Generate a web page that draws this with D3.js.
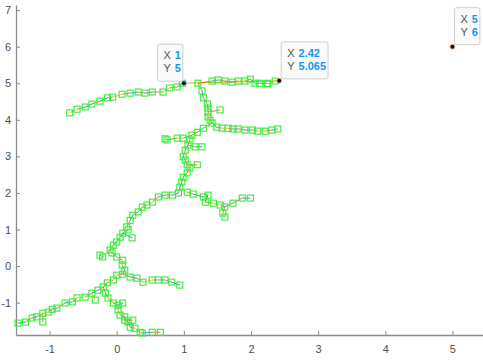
<!DOCTYPE html>
<html>
<head>
<meta charset="utf-8">
<script src="https://cdn.jsdelivr.net/npm/d3@7"></script>
<style>
  html, body { margin: 0; padding: 0; background: #fff; }
  svg { display: block; font-family: "Liberation Sans", Arial, sans-serif; }
</style>
</head>
<body>
<div id="chart"></div>
<script>
// tree branches, [x, y] in data units, each starts at its parent node
const branchTopLeft = [[0.98,5.00],[0.90,4.90],[0.79,4.87],[0.69,4.76],[0.53,4.76],[0.42,4.73],[0.32,4.76],[0.20,4.73],[0.08,4.70],[-0.06,4.62],[-0.14,4.60],[-0.25,4.51],[-0.37,4.43],[-0.47,4.35],[-0.59,4.29],[-0.70,4.19]];
const branchTopRight = [[1.21,5.00],[1.42,5.06],[1.51,5.09],[1.61,5.06],[1.72,5.03],[1.81,5.06],[1.91,5.06],[1.99,5.11],[2.06,5.00],[2.13,5.00],[2.24,5.00],[2.25,4.98],[2.36,5.06]];
const trunkUpper = [[1.21,5.00],[1.27,4.79],[1.29,4.60],[1.35,4.43],[1.36,4.32],[1.36,4.21],[1.36,4.08],[1.39,3.99],[1.42,3.91]];
const sideUpper = [[1.36,4.21],[1.54,4.27]];
const branchMidRight = [[1.42,3.91],[1.49,3.80],[1.57,3.77],[1.66,3.77],[1.73,3.75],[1.81,3.75],[1.91,3.72],[2.02,3.72],[2.10,3.69],[2.21,3.69],[2.31,3.72],[2.40,3.75]];
const trunkMid = [[1.42,3.91],[1.29,3.77],[1.20,3.66],[1.12,3.58],[1.09,3.45],[1.06,3.31],[1.02,3.17],[0.99,2.99],[1.02,2.90],[1.05,2.77],[1.09,2.68],[1.05,2.55],[0.99,2.43],[0.97,2.30],[0.94,2.16]];
const branchMidLeft = [[1.12,3.58],[0.99,3.50],[0.90,3.50],[0.75,3.45],[0.72,3.48]];
const sideMidA = [[1.06,3.31],[1.17,3.26],[1.27,3.26]];
const sideMidB = [[1.05,2.77],[1.20,2.77]];
const branchLowRight = [[0.94,2.16],[1.05,2.02],[1.14,1.97],[1.29,1.89],[1.36,1.94],[1.32,1.75],[1.44,1.72],[1.54,1.67],[1.61,1.62],[1.73,1.72],[1.87,1.86],[1.99,1.86]];
const sideLowRight = [[1.61,1.62],[1.58,1.45],[1.61,1.34]];
const trunkLow = [[0.94,2.16],[0.92,2.00],[0.83,1.94],[0.72,1.94],[0.62,1.89],[0.53,1.75],[0.45,1.67],[0.38,1.61],[0.32,1.48],[0.24,1.39],[0.20,1.25],[0.15,1.07],[0.17,0.99],[0.09,0.90],[0.05,0.79],[0.00,0.66],[-0.05,0.57],[-0.10,0.44],[-0.21,0.25],[-0.25,0.30]];
const sideLow = [[0.09,0.90],[0.23,0.77]];
const stemLow = [[-0.10,0.44],[-0.07,0.36],[0.00,0.25],[0.09,0.16],[0.08,0.03],[0.12,-0.11],[0.09,-0.22]];
const branchBottomRight = [[0.09,-0.22],[0.20,-0.30],[0.30,-0.33],[0.39,-0.44],[0.53,-0.38],[0.62,-0.38],[0.72,-0.38],[0.82,-0.44],[0.94,-0.52]];
const branchBottomLeft = [[0.09,-0.22],[0.00,-0.25],[-0.05,-0.38],[-0.14,-0.46],[-0.20,-0.57],[-0.28,-0.66],[-0.37,-0.74],[-0.47,-0.85],[-0.59,-0.87],[-0.66,-0.98],[-0.77,-1.01],[-0.89,-1.15],[-0.96,-1.18],[-1.02,-1.26],[-1.10,-1.29],[-1.19,-1.39],[-1.26,-1.42],[-1.36,-1.53],[-1.47,-1.56]];
const sideBottomLeftA = [[-1.10,-1.29],[-1.10,-1.53]];
const sideBottomLeftB = [[-0.37,-0.74],[-0.32,-0.93]];
const branchBottomDown = [[-0.20,-0.57],[-0.17,-0.74],[-0.13,-0.87],[-0.05,-1.01],[0.02,-1.07],[0.02,-1.20],[0.05,-1.34],[0.12,-1.39],[0.12,-1.48],[0.17,-1.53],[0.20,-1.67],[0.27,-1.70],[0.35,-1.81],[0.38,-1.83],[0.53,-1.81],[0.65,-1.81]];
const sideBottomDownA = [[0.02,-1.07],[0.09,-1.01]];
const sideBottomDownB = [[0.12,-1.48],[0.24,-1.48]];

const branches = [branchTopLeft, branchTopRight, trunkUpper, sideUpper, branchMidRight, trunkMid,
  branchMidLeft, sideMidA, sideMidB, branchLowRight, sideLowRight, trunkLow, sideLow, stemLow,
  branchBottomRight, branchBottomLeft, sideBottomLeftA, sideBottomLeftB, branchBottomDown,
  sideBottomDownA, sideBottomDownB];

// marked points with data tips
const tipPoints = [[1, 5], [2.42, 5.065], [5, 6]];
const tipLabels = [['1', '5'], ['2.42', '5.065'], ['5', '6']];
const tipSide = ['left', 'right', 'right'];

const xTicks = [-1, 0, 1, 2, 3, 4, 5];
const yTicks = [-1, 0, 1, 2, 3, 4, 5, 6, 7];

const width = 483, height = 360;
const lineColors = ['#0072BD', '#D95319', '#EDB120', '#D95319', '#0072BD', '#D95319'];

const x = d3.scaleLinear().domain([-1.5, 5.5]).range([16, 486]);
const y = d3.scaleLinear().domain([-1.885, 7.14]).range([335, 5]);

const svg = d3.select('#chart').append('svg')
  .attr('width', width)
  .attr('height', height);

// axes (plain hyphen minus, integer labels)
const fmt = (d) => String(d);
const axisColor = '#8c8c8c';
const xAxis = svg.append('g')
  .attr('transform', `translate(0,${y.range()[0]})`)
  .call(d3.axisBottom(x).tickValues(xTicks).tickFormat(fmt).tickSizeInner(-4).tickSizeOuter(0).tickPadding(8));
const yAxis = svg.append('g')
  .attr('transform', `translate(${x.range()[0]},0)`)
  .call(d3.axisLeft(y).tickValues(yTicks).tickFormat(fmt).tickSizeInner(-4).tickSizeOuter(0).tickPadding(5));
[xAxis, yAxis].forEach((g) => {
  g.select('.domain').attr('stroke', axisColor).attr('stroke-width', 1.3);
  g.selectAll('.tick line').attr('stroke', axisColor).attr('stroke-width', 1);
  g.selectAll('.tick text').attr('fill', '#4d4d4d').attr('font-size', 11)
    .attr('font-family', '"Liberation Sans", Arial, sans-serif');
});
xAxis.selectAll('.tick text').attr('dy', '0.9em');

// the yellow link between the first two tips
const line = d3.line().x((d) => x(d[0])).y((d) => y(d[1]));
svg.append('path')
  .datum([tipPoints[0], tipPoints[1]])
  .attr('d', line)
  .attr('fill', 'none')
  .attr('stroke', '#EDB120')
  .attr('stroke-width', 1.2);

// edges, each segment in its own colour
let k = 0;
const edges = svg.append('g');
branches.forEach((b) => {
  for (let i = 0; i < b.length - 1; i++) {
    edges.append('path')
      .datum([b[i], b[i + 1]])
      .attr('d', line)
      .attr('fill', 'none')
      .attr('stroke', lineColors[k % lineColors.length])
      .attr('stroke-width', 1)
      .attr('opacity', 0.8);
    k++;
  }
});

// square markers on every node
const nodes = branches.flatMap((b, bi) => bi === 0 || bi === 1 ? b : b.slice(1));
const s = 6;
svg.append('g').selectAll('rect')
  .data(nodes)
  .join('rect')
  .attr('x', (d) => x(d[0]) - s / 2)
  .attr('y', (d) => y(d[1]) - s / 2)
  .attr('width', s)
  .attr('height', s)
  .attr('fill', 'none')
  .attr('stroke', '#33ee33')
  .attr('stroke-width', 1.1);

// data tips
tipPoints.forEach((p, i) => {
  const px = x(p[0]), py = y(p[1]);
  svg.append('circle').attr('cx', px).attr('cy', py).attr('r', 3)
    .attr('fill', i === 0 ? '#9aa6ee' : '#f0a070').attr('opacity', 0.7);
  svg.append('circle').attr('cx', px).attr('cy', py).attr('r', 2).attr('fill', '#111');

  const g = svg.append('g');
  const box = g.append('rect');
  const rows = [['X', tipLabels[i][0]], ['Y', tipLabels[i][1]]];
  const texts = rows.map((r, j) => {
    const t = g.append('text')
      .attr('x', 6)
      .attr('y', 15 + j * 13)
      .attr('font-size', 11);
    t.append('tspan').attr('fill', '#555').text(r[0]);
    t.append('tspan').attr('fill', '#1a94f2').attr('font-weight', 'bold').attr('dx', 4).text(r[1]);
    return t;
  });
  const w = d3.max(texts, (t) => t.node().getComputedTextLength()) + 12;
  const h = 37;
  box.attr('width', w).attr('height', h).attr('rx', 2)
    .attr('fill', '#fafafa').attr('stroke', '#cfcfcf').attr('stroke-width', 1);
  const bx = tipSide[i] === 'left' ? px - 1 - w : px + 2;
  const by = py - 2 - h;
  g.attr('transform', `translate(${bx},${by})`);
});
</script>
</body>
</html>
